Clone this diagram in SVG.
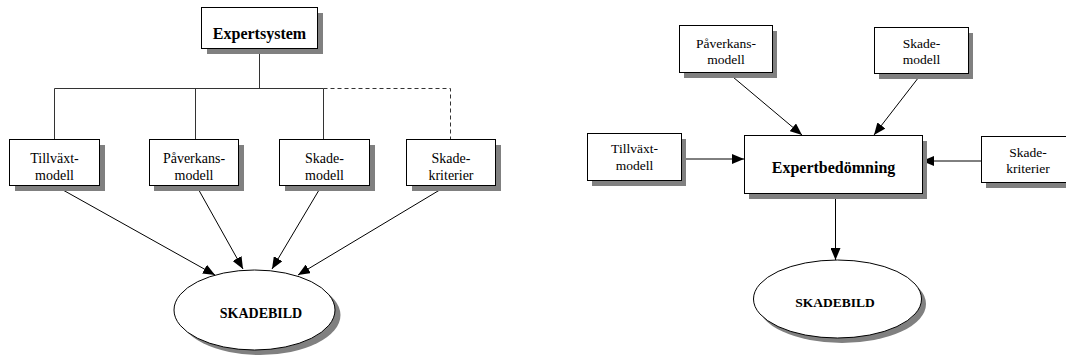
<svg xmlns="http://www.w3.org/2000/svg" width="1066" height="356" viewBox="0 0 1066 356">
<style>
.sh{fill:#808080;stroke:none}
.bx{fill:#fff;stroke:#000;stroke-width:1}
.t{font-family:"Liberation Serif","Times New Roman",serif;font-size:14px;fill:#000;text-anchor:middle}
.tr{font-family:"Liberation Serif","Times New Roman",serif;font-size:13.5px;fill:#000;text-anchor:middle}
.b{font-family:"Liberation Serif","Times New Roman",serif;font-weight:bold;fill:#000;text-anchor:middle}
.ln{stroke:#333;stroke-width:1;fill:none}
.ar{stroke:#000;stroke-width:1;fill:none;marker-end:url(#ah)}
</style>
<defs>
<marker id="ah" viewBox="0 0 12 10" refX="12" refY="5" markerWidth="12" markerHeight="10" markerUnits="userSpaceOnUse" orient="auto">
<path d="M0,0 L12,5 L0,10 Z" fill="#000"/>
</marker>
</defs>
<rect width="1066" height="356" fill="#fff"/>

<g id="connectors">
<path class="ln" d="M259.5,48 V88.5 M54.5,88.5 H323.5 M54.5,88.5 V139 M195.5,88.5 V139 M323.5,88.5 V139"/>
<path class="ln" d="M323.5,88.5 H450.5 V139" stroke-dasharray="4,3"/>
<line class="ar" x1="54" y1="185" x2="215" y2="275"/>
<line class="ar" x1="196" y1="185" x2="243" y2="269"/>
<line class="ar" x1="322" y1="185" x2="272" y2="269"/>
<line class="ar" x1="448" y1="185" x2="298" y2="275"/>
<line class="ar" x1="727" y1="72" x2="802" y2="135"/>
<line class="ar" x1="922" y1="73" x2="874" y2="135"/>
<line class="ar" x1="681" y1="159" x2="744" y2="159"/>
<line class="ar" x1="981" y1="161" x2="922" y2="161"/>
<line class="ar" x1="835.5" y1="193" x2="835.5" y2="260"/>
</g>

<g id="expertsystem">
<rect class="sh" x="207" y="13" width="116" height="41"/>
<rect class="bx" x="201.5" y="7.5" width="116" height="41"/>
<text class="b" x="259.5" y="39" font-size="16">Expertsystem</text>
</g>

<g id="l-tillvaxt">
<rect class="sh" x="15" y="145" width="90" height="46"/>
<rect class="bx" x="9.5" y="139.5" width="90" height="46"/>
<text class="t" x="54.5" y="163">Tillväxt-</text>
<text class="t" x="54.5" y="180">modell</text>
</g>
<g id="l-paverkans">
<rect class="sh" x="154" y="145" width="90" height="46"/>
<rect class="bx" x="149.5" y="139.5" width="89" height="46"/>
<text class="t" x="194" y="163">Påverkans-</text>
<text class="t" x="194" y="180">modell</text>
</g>
<g id="l-skademodell">
<rect class="sh" x="285" y="145" width="90" height="46"/>
<rect class="bx" x="279.5" y="139.5" width="90" height="46"/>
<text class="t" x="324.5" y="163">Skade-</text>
<text class="t" x="324.5" y="180">modell</text>
</g>
<g id="l-skadekriterier">
<rect class="sh" x="412" y="145" width="89" height="46"/>
<rect class="bx" x="406.5" y="139.5" width="89" height="46"/>
<text class="t" x="451" y="163">Skade-</text>
<text class="t" x="451" y="180">kriterier</text>
</g>
<g id="l-skadebild">
<ellipse class="sh" cx="260" cy="315" rx="80.5" ry="40"/>
<ellipse class="bx" cx="254.5" cy="310" rx="80.5" ry="40"/>
<text class="b" x="261" y="318" font-size="14">SKADEBILD</text>
</g>

<g id="r-paverkans">
<rect class="sh" x="684" y="31" width="93" height="47"/>
<rect class="bx" x="679.5" y="25.5" width="93" height="47"/>
<text class="tr" x="726" y="48">Påverkans-</text>
<text class="tr" x="726" y="64">modell</text>
</g>
<g id="r-skademodell">
<rect class="sh" x="879" y="33" width="94" height="46"/>
<rect class="bx" x="874.5" y="27.5" width="94" height="46"/>
<text class="tr" x="921.5" y="48">Skade-</text>
<text class="tr" x="921.5" y="64">modell</text>
</g>
<g id="r-tillvaxt">
<rect class="sh" x="592" y="139" width="94" height="47"/>
<rect class="bx" x="587.5" y="133.5" width="94" height="47"/>
<text class="tr" x="634.5" y="153">Tillväxt-</text>
<text class="tr" x="634.5" y="170">modell</text>
</g>
<g id="r-expertbedomning">
<rect class="sh" x="749" y="141" width="178" height="58"/>
<rect class="bx" x="744.5" y="135.5" width="178" height="58"/>
<text class="b" x="833.5" y="173" font-size="16">Expertbedömning</text>
</g>
<g id="r-skadekriterier">
<rect class="sh" x="986" y="142" width="94" height="46"/>
<rect class="bx" x="981.5" y="136.5" width="94" height="46"/>
<text class="tr" x="1028" y="157">Skade-</text>
<text class="tr" x="1028" y="173">kriterier</text>
</g>
<g id="r-skadebild">
<ellipse class="sh" cx="842" cy="304" rx="84" ry="39"/>
<ellipse class="bx" cx="837.5" cy="299" rx="84" ry="39"/>
<text class="b" x="835" y="307" font-size="13.5">SKADEBILD</text>
</g>
</svg>
